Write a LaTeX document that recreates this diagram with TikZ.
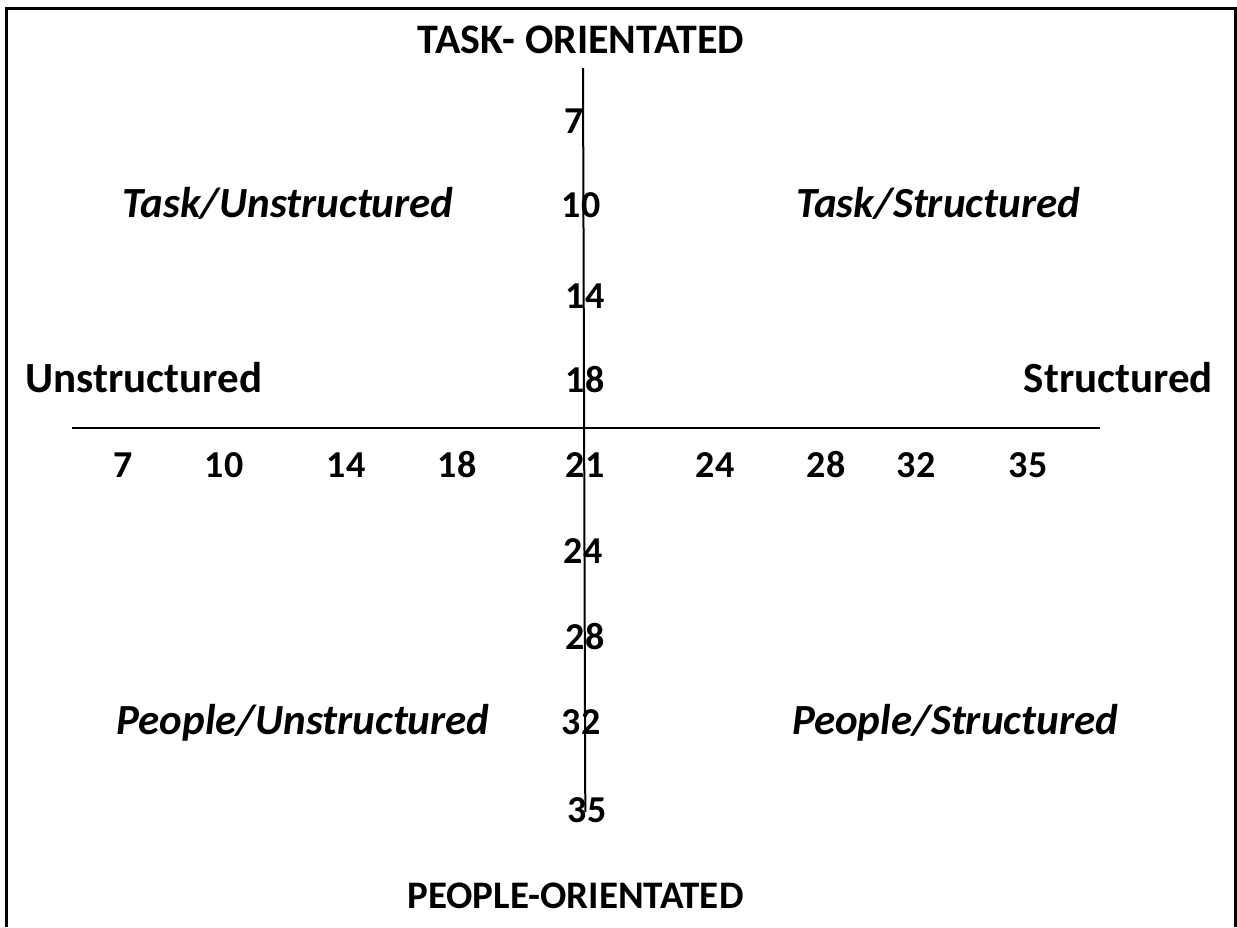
\documentclass[tikz,border=0pt]{standalone}
\usepackage{fontspec}
\setmainfont{Carlito}
\begin{document}
\begin{tikzpicture}[x=0.5pt,y=-0.5pt,
    endlab/.style={font=\fontsize{21.5}{24}\selectfont\bfseries, anchor=base, inner sep=0pt},
    poleab/.style={font=\fontsize{21}{24}\selectfont\bfseries, anchor=base, inner sep=0pt},
    quadlab/.style={font=\fontsize{21.5}{24}\selectfont\bfseries\itshape, anchor=base, inner sep=0pt},
    num/.style={font=\fontsize{19}{22}\selectfont\bfseries, anchor=base, inner sep=0pt}]

    \useasboundingbox (0,0) rectangle (1237,927);

    %cadre
    \draw[line width=1.5pt] (6.5,927) -- (6.5,8.5) -- (1235.5,8.5) -- (1235.5,927);

    %axes
    \coordinate (ytop) at (583,68);
    \coordinate (ybot) at (585.3,812);
    \coordinate (xleft) at (72,428);
    \coordinate (xright) at (1100,428);
    \draw[line width=1pt] (ytop) -- (ybot);
    \draw[line width=1pt] (xleft) -- (xright);

    %poles
    \node[poleab] (task) at (581,53) {TASK- ORIENTATED};
    \node[poleab, font=\fontsize{19.5}{22}\selectfont\bfseries] (people) at (575.5,908) {PEOPLE-ORIENTATED};
    \node[endlab] (unstr) at (144,392) {Unstructured};
    \node[endlab] (str) at (1118.5,392) {Structured};

    %quadrants
    \node[quadlab] (tu) at (288,217) {Task/Unstructured};
    \node[quadlab] (ts) at (938,217) {Task/Structured};
    \node[quadlab] (pu) at (303,734) {People/Unstructured};
    \node[quadlab] (ps) at (955,734) {People/Structured};

    %graduations
    \foreach \v/\x/\y in {7/574/133, 10/581/217, 14/585/308, 18/585/392,
        24/583/563, 28/585/649, 32/581/734, 35/587/822}{
        \node[num] (v\v) at (\x,\y) {\v};
    }
    \foreach \v/\x in {7/123.5, 10/224, 14/346, 18/457, 21/585,
        24/715, 28/826, 32/916, 35/1028}{
        \node[num] (h\v) at (\x,477) {\v};
    }

\end{tikzpicture}
\end{document}
